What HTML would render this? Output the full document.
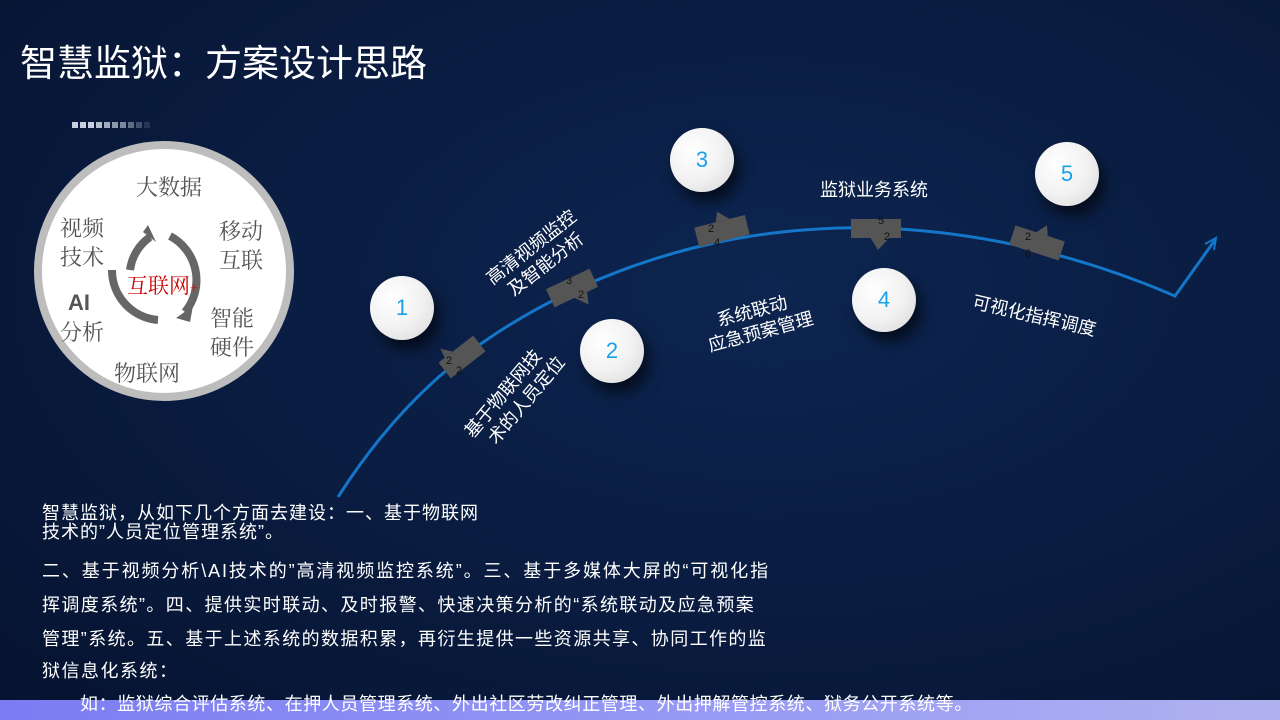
<!DOCTYPE html>
<html><head><meta charset="utf-8"><style>
*{margin:0;padding:0}
body{width:1280px;height:720px;overflow:hidden;position:relative;background:radial-gradient(ellipse at 60% 40%,#0d2550 0%,#0a1d42 45%,#061330 100%);font-family:"Liberation Sans","Noto Sans CJK SC",sans-serif;color:#fff}
.t{position:absolute;white-space:nowrap}
.c{position:absolute;width:64px;height:64px;border-radius:50%;background:radial-gradient(circle at 35% 35%,#fff 0%,#f2f2f2 50%,#d6d6d6 100%);box-shadow:6px 10px 14px rgba(0,0,0,.6);color:#1aa0e8;font-size:22px;text-align:center;line-height:64px}
.b{position:absolute;left:42px;font-size:18px;white-space:nowrap}
.s{font-family:"Noto Serif CJK SC",serif;color:#555;font-size:22px;line-height:29px}
</style></head><body>
<div class="t" style="left:20px;top:33px;font-size:37px">智慧监狱：方案设计思路</div>
<svg style="position:absolute;left:72px;top:122px" width="90" height="8"><g fill="#c8d0e0"><rect x="0" width="6" height="6"/><rect x="8" width="6" height="6"/><rect x="16" width="6" height="6"/><rect x="24" width="6" height="6" opacity=".9"/><rect x="32" width="6" height="6" opacity=".8"/><rect x="40" width="6" height="6" opacity=".7"/><rect x="48" width="6" height="6" opacity=".6"/><rect x="56" width="6" height="6" opacity=".45"/><rect x="64" width="6" height="6" opacity=".3"/><rect x="72" width="6" height="6" opacity=".15"/></g></svg>
<div style="position:absolute;left:34px;top:141px;width:244px;height:244px;border-radius:50%;background:#fff;border:8px solid #bdbdbd"></div>
<svg style="position:absolute;left:0;top:0" width="1280" height="720">
<path d="M130,270 A48,48 0 0 1 150,237" fill="none" stroke="#666" stroke-width="8"/>
<path d="M143,232 L156,242 L148,225Z" fill="#666"/>
<path d="M112,270 A50,50 0 0 0 158,320" stroke="#666" stroke-width="8" fill="none"/>
<path d="M170,236 A50,50 0 0 1 185,312" stroke="#666" stroke-width="8" fill="none"/>
<path d="M176,318 L193,306 L190,322Z" fill="#666"/>
<path d="M338,497 C400,400 470,340 570,292 C660,250 760,225 880,228 C980,232 1080,255 1175,296 L1215,240" fill="none" stroke="#1476c8" stroke-width="3"/>
<path d="M1205,244 L1216,238 L1214,250" fill="none" stroke="#1476c8" stroke-width="2"/>
<g fill="#555">
<g transform="translate(462,357) rotate(-38)"><rect x="-22" y="-10" width="44" height="20"/><path d="M-14,-10 L-4,-10 L-12,-20Z"/></g>
<g transform="translate(572,288) rotate(-25)"><rect x="-24" y="-10" width="48" height="20"/><path d="M-2,10 L12,10 L8,22Z"/></g>
<g transform="translate(722,231) rotate(-14)"><rect x="-26" y="-10" width="52" height="20"/><path d="M-4,-10 L10,-10 L0,-20Z"/></g>
<rect x="851" y="219" width="50" height="19"/>
<path d="M870,237 L890,237 L878,250Z"/>
<g transform="translate(1037,243) rotate(18)"><rect x="-26" y="-10" width="52" height="20"/><path d="M-4,-10 L8,-10 L4,-20Z"/></g>
</g>
<g font-size="11" fill="#111" font-family="Liberation Sans">
<text x="446" y="364">2</text><text x="456" y="374">2</text>
<text x="566" y="284">3</text><text x="578" y="298">2</text>
<text x="708" y="232">2</text><text x="714" y="246">4</text>
<text x="878" y="224">5</text><text x="884" y="240">2</text>
<text x="1025" y="240">2</text><text x="1025" y="257">6</text>
</g>
</svg>
<div class="t s" style="left:136px;top:172px">大数据</div>
<div class="t s" style="left:60px;top:213px">视频<br>技术</div>
<div class="t s" style="left:219px;top:216px">移动<br>互联</div>
<div class="t" style="left:68px;top:290px;font-size:22px;color:#555;font-weight:bold">AI</div>
<div class="t s" style="left:60px;top:317px">分析</div>
<div class="t s" style="left:210px;top:303px">智能<br>硬件</div>
<div class="t s" style="left:114px;top:358px">物联网</div>
<div class="t" style="left:127px;top:270px;font-size:21px;color:#c00;font-family:'Noto Serif CJK SC',serif">互联网<span style="font-size:14px">+</span></div>
<div class="c" style="left:370px;top:276px">1</div>
<div class="c" style="left:580px;top:319px">2</div>
<div class="c" style="left:670px;top:128px">3</div>
<div class="c" style="left:852px;top:268px">4</div>
<div class="c" style="left:1035px;top:142px">5</div>
<div class="t" style="left:482px;top:272px;font-size:18px;line-height:22px;transform:rotate(-38deg);transform-origin:0 0">高清视频监控<br>&nbsp;&nbsp;及智能分析</div>
<div class="t" style="left:460px;top:428px;font-size:18px;line-height:22px;transform:rotate(-50deg);transform-origin:0 0">基于物联网技<br>&nbsp;&nbsp;术的人员定位</div>
<div class="t" style="left:700px;top:314px;font-size:18px;line-height:22px;transform:rotate(-15deg);transform-origin:0 0">&nbsp;&nbsp;&nbsp;系统联动<br>应急预案管理</div>
<div class="t" style="left:820px;top:176px;font-size:18px">监狱业务系统</div>
<div class="t" style="left:976px;top:288px;font-size:18px;transform:rotate(13deg);transform-origin:0 0">可视化指挥调度</div>
<div style="position:absolute;left:0;top:700px;width:1280px;height:20px;background:linear-gradient(90deg,#7b7cf2,#9a9cf4 60%,#b0b2f0)"></div>
<div class="b" style="top:504px;line-height:19px;letter-spacing:1px">智慧监狱，从如下几个方面去建设：一、基于物联网<br>技术的”人员定位管理系统”。</div>
<div class="b" style="top:557px;letter-spacing:1.9px">二、基于视频分析\AI技术的”高清视频监控系统”。三、基于多媒体大屏的“可视化指</div>
<div class="b" style="top:591px;letter-spacing:1.4px">挥调度系统”。四、提供实时联动、及时报警、快速决策分析的“系统联动及应急预案</div>
<div class="b" style="top:625px;letter-spacing:1.4px">管理”系统。五、基于上述系统的数据积累，再衍生提供一些资源共享、协同工作的监</div>
<div class="b" style="top:657px;letter-spacing:1.5px">狱信息化系统：</div>
<div class="b" style="top:690px;left:80px;letter-spacing:0.6px">如：监狱综合评估系统、在押人员管理系统、外出社区劳改纠正管理、外出押解管控系统、狱务公开系统等。</div>
</body></html>
